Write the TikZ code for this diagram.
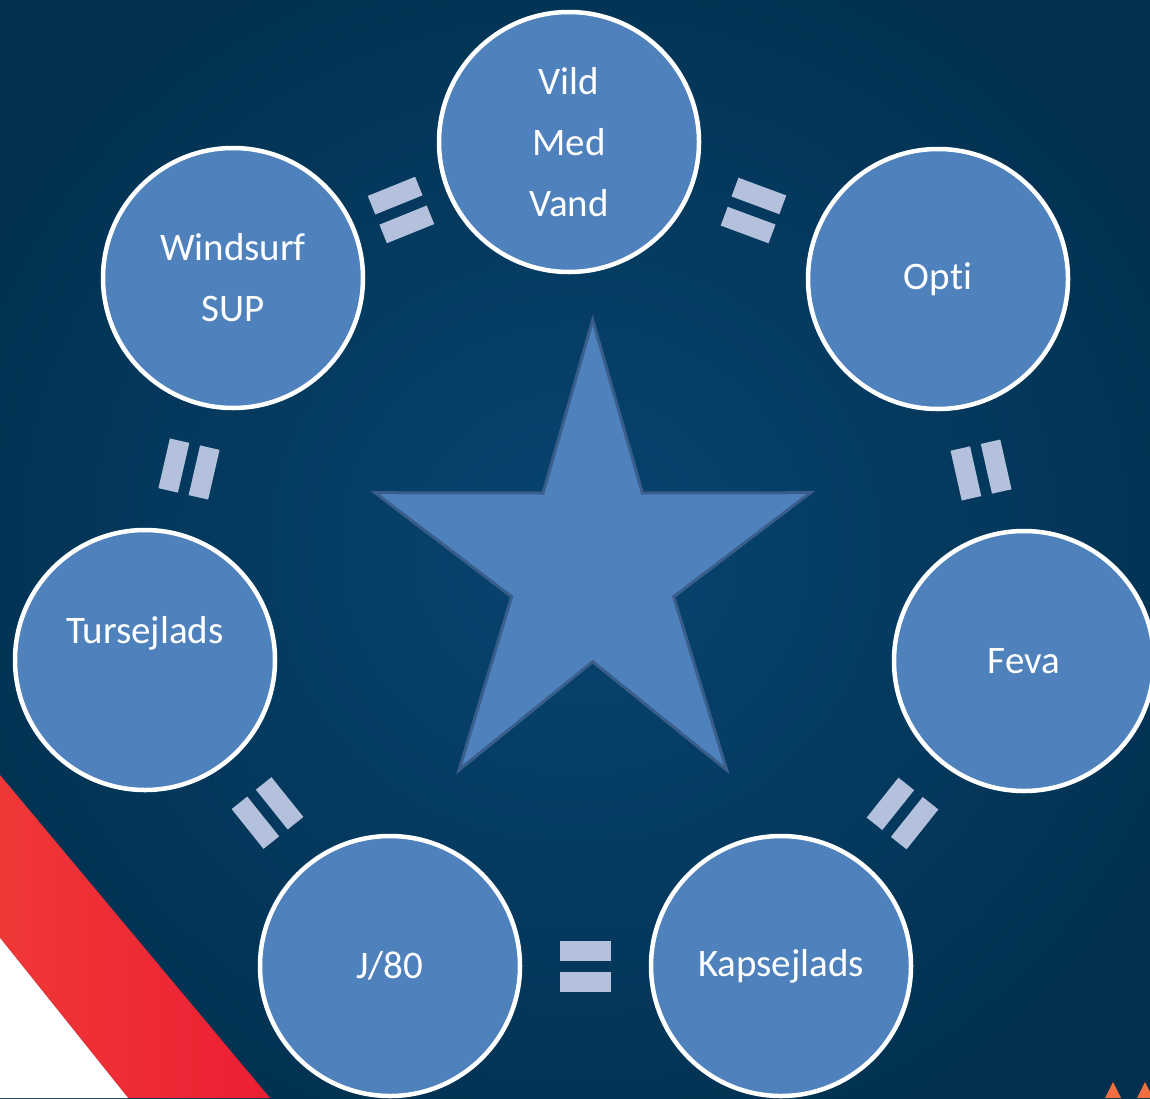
\documentclass[tikz,border=0pt]{standalone}
\usepackage{fontspec}
\setmainfont[Ligatures=CommonOff]{Carlito}
\usetikzlibrary{calc}
\definecolor{bgin}{RGB}{8,68,112}
\definecolor{bgout}{RGB}{2,49,80}
\definecolor{circfill}{RGB}{79,129,189}
\definecolor{starline}{RGB}{58,94,140}
\definecolor{barcol}{RGB}{179,193,221}
\definecolor{flagred}{RGB}{236,31,51}
\definecolor{flagred2}{RGB}{239,56,56}
\definecolor{flame}{RGB}{240,112,64}
\tikzset{
  venue/.style={circle, draw=white, line width=4.5pt, fill=circfill,
    minimum size=260pt, inner sep=0pt, text=white, align=center,
    font=\fontsize{39}{61}\selectfont},
  starshape/.style={fill=circfill, draw=starline, line width=3pt, line join=miter},
  eqsign/.pic={
    \fill[barcol] (-25.5,5.5) rectangle (25.5,25.5);
    \fill[barcol] (-25.5,-5.5) rectangle (25.5,-25.5);
  }
}
\begin{document}
\begin{tikzpicture}[x=1pt,y=-1pt]
\useasboundingbox (0,0) rectangle (1150,1098);
\clip (0,0) rectangle (1150,1098);
% background
\shade[inner color=bgin, outer color=bgout] (-100,-100) rectangle (1250,1198);
% red/white stripe
\shade[left color=flagred2, right color=flagred] (0,775) -- (270,1098) -- (128,1098) -- (0,938) -- cycle;
\fill[white] (0,938) -- (128,1098) -- (0,1098) -- cycle;
% orange tips
\fill[flame] (1105,1098) -- (1113,1082) -- (1121,1098) -- cycle;
\fill[flame] (1137,1098) -- (1145,1082) -- (1153,1098) -- cycle;
% star
\draw[starshape] (592.7,320) -- (543,493) -- (375,492.7) -- (511.7,596.7) -- (459,770)
  -- (592.7,661.7) -- (726.7,770) -- (673.7,596.7) -- (810.4,492.7) -- (642.4,493) -- cycle;
% circles
\node[venue] (vmv)  at (569,142) {Vild\\Med\\Vand};
\node[venue] (wind) at (233,278) {Windsurf\\SUP};
\node[venue] (opti) at (938,279) {Opti};
\node[venue] (feva) at (1024,661) {Feva};
\node[venue] (turs) at (145,660) {Tursejlads\\\phantom{T}};
\node[venue] (j80)  at (390,966) {J/80};
\node[venue] (kap)  at (781,966) {Kapsejlads};
% equals signs
\foreach \a/\b in {wind/vmv, vmv/opti, opti/feva, feva/kap, j80/kap, turs/j80, wind/turs}
  \path let \p1=($(\b)-(\a)$), \n1={atan2(\y1,\x1)} in
    pic[rotate=\n1] at ($(\a)!0.5!(\b)$) {eqsign};
\end{tikzpicture}
\end{document}
